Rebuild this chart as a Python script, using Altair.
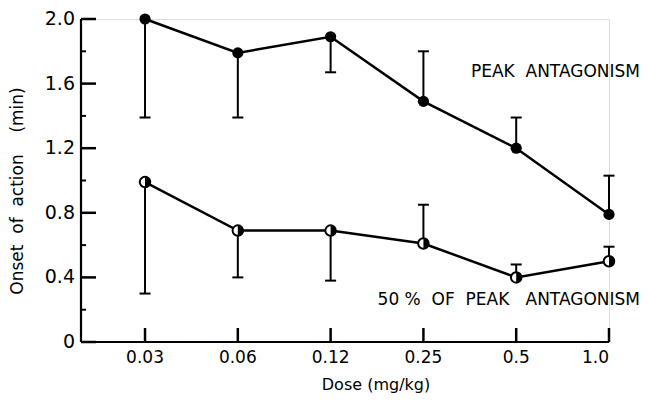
import altair as alt
import pandas as pd

doses = ["0.03", "0.06", "0.12", "0.25", "0.5", "1.0"]
idx = [0, 1, 2, 3, 4, 5]

peak = [2.0, 1.79, 1.89, 1.49, 1.20, 0.79]
peak_err_end = [1.39, 1.39, 1.67, 1.80, 1.39, 1.03]

half = [0.99, 0.69, 0.69, 0.61, 0.40, 0.50]
half_err_end = [0.30, 0.40, 0.38, 0.85, 0.48, 0.59]

y_major = [0, 0.4, 0.8, 1.2, 1.6, 2.0]
y_minor = [0.2, 0.6, 1.0, 1.4, 1.8]

NB = "\u00a0"
labels = ["PEAK" + NB + NB + "ANTAGONISM",
          "50" + NB + "%" + NB + NB + "OF" + NB + NB + "PEAK" + NB + NB + NB + "ANTAGONISM"]
label_y = [1.67, 0.26]

FONT = "DejaVu Sans"

df = pd.DataFrame({
    "i": idx * 2,
    "dose": doses * 2,
    "val": peak + half,
    "err": peak_err_end + half_err_end,
    "series": ["peak"] * 6 + ["half"] * 6,
})

xs = alt.Scale(domain=[-0.69, 5], nice=False, zero=False)
ys = alt.Scale(domain=[0, 2.0], nice=False)

label_expr = "[" + ",".join("'" + d + "'" for d in doses) + "][datum.value]"

base = alt.Chart(df)

x_enc = alt.X("i:Q", scale=xs, axis=alt.Axis(
    values=idx, labelExpr=label_expr, title="Dose" + NB + "(mg/kg)",
    tickSize=0, labelPadding=8, translate=0,
    domainColor="black", domainWidth=2.2, domainOpacity=1,
    labelFont=FONT, labelFontSize=17, labelColor="black",
    titleFont=FONT, titleFontSize=16, titleFontWeight="normal", titleColor="black",
    titleX=295, titleY=43, titleAlign="center", titleBaseline="middle",
    grid=False))
y_enc = alt.Y("val:Q", scale=ys, axis=alt.Axis(
    values=y_major, labelExpr="datum.value == 0 ? '0' : format(datum.value, '.1f')",
    title="Onset" + NB + NB + "of" + NB + NB + "action" + NB + NB + NB + NB + "(min)",
    tickSize=0, labelPadding=6, translate=0,
    domainColor="black", domainWidth=2.2, domainOpacity=1,
    labelFont=FONT, labelFontSize=19, labelColor="black",
    titleFont=FONT, titleFontSize=17, titleFontWeight="normal", titleColor="black",
    titleX=-63, titleY=172, titleAlign="center", titleBaseline="middle", titleAngle=-90,
    grid=False))

lines = base.mark_line(color="black", strokeWidth=2.5).encode(
    x=x_enc, y=y_enc, detail="series:N")

err_rules = base.mark_rule(color="black", strokeWidth=2).encode(
    x="i:Q", y="val:Q", y2="err:Q")
err_caps = base.mark_tick(color="black", opacity=1, orient="horizontal", size=11, thickness=2).encode(
    x="i:Q", y="err:Q")

peak_pts = base.transform_filter("datum.series == 'peak'").mark_circle(
    color="black", opacity=1, size=125).encode(x="i:Q", y="val:Q")

half_pts = base.transform_filter("datum.series == 'half'").mark_point(
    shape="circle", filled=True, fill="white", stroke="black", strokeWidth=2,
    opacity=1, size=110).encode(x="i:Q", y="val:Q")
half_arc = base.transform_filter("datum.series == 'half'").mark_arc(
    color="black", radius=5.5, theta=0, theta2=3.14159).encode(x="i:Q", y="val:Q")

major_df = pd.DataFrame({"v": y_major})
minor_df = pd.DataFrame({"v": y_minor})
ymaj = alt.Chart(major_df).mark_tick(color="black", opacity=1, orient="horizontal", size=15, thickness=2.5).encode(
    y=alt.Y("v:Q", scale=ys), x=alt.value(7.5))
ymin = alt.Chart(minor_df).mark_tick(color="black", opacity=1, orient="horizontal", size=5, thickness=2).encode(
    y=alt.Y("v:Q", scale=ys), x=alt.value(2.5))
xt_df = pd.DataFrame({"i": idx})
xt = alt.Chart(xt_df).mark_tick(color="black", opacity=1, orient="vertical", size=14, thickness=2.5).encode(
    x=alt.X("i:Q", scale=xs), y=alt.value(316))

lab_df = pd.DataFrame({"t": labels, "y": label_y, "i": [5, 5]})
texts = alt.Chart(lab_df).mark_text(
    align="right", baseline="middle", font=FONT, fontSize=17, color="black", dx=31).encode(
    x=alt.X("i:Q", scale=xs), y=alt.Y("y:Q", scale=ys), text="t:N")

chart = alt.layer(lines, err_rules, err_caps, ymaj, ymin, xt, peak_pts, half_pts, half_arc, texts).properties(
    width=528, height=323,
    autosize=alt.AutoSizeParams(type="none"),
    padding={"left": 73, "top": 11, "right": 31, "bottom": 58},
).configure_view(stroke=None).configure(background="white")

chart.save("out.html", embed_options={"renderer": "svg", "actions": False})
